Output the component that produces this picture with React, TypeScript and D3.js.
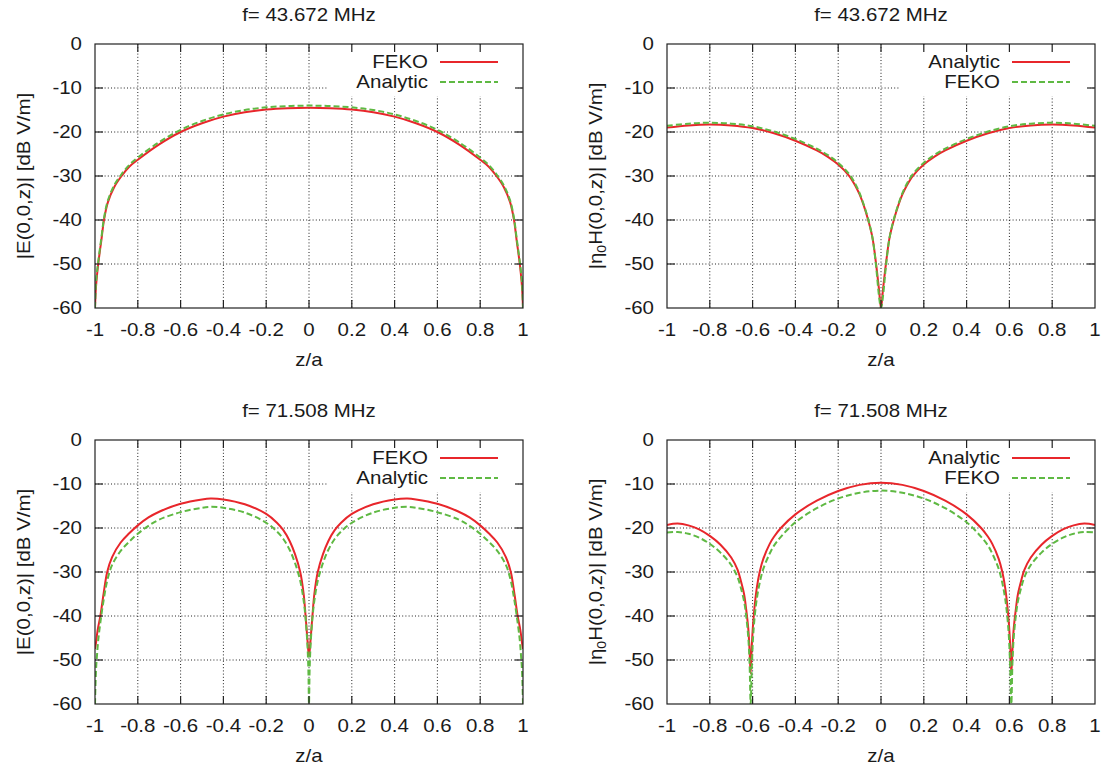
import React from "react";
import * as d3 from "d3";

// ---------- shared axes ----------
const xTicks = [-1, -0.8, -0.6, -0.4, -0.2, 0, 0.2, 0.4, 0.6, 0.8, 1];
const xTickLabels = ["-1", "-0.8", "-0.6", "-0.4", "-0.2", "0", "0.2", "0.4", "0.6", "0.8", "1"];
const yTicks = [0, -10, -20, -30, -40, -50, -60];
const yTickLabels = ["0", "-10", "-20", "-30", "-40", "-50", "-60"];

// ---------- panel 1: E, f = 43.672 MHz ----------
const zTL = [-1, -0.995, -0.985, -0.97, -0.958, -0.94, -0.91, -0.876, -0.84, -0.8, -0.7, -0.6, -0.5, -0.4, -0.3, -0.2, -0.1, 0, 0.1, 0.2, 0.3, 0.4, 0.5, 0.6, 0.7, 0.8, 0.84, 0.876, 0.91, 0.94, 0.958, 0.97, 0.985, 0.995, 1];
const fekoTL = [-60, -55, -50, -44.5, -40, -36, -32.5, -30, -27.9, -26.3, -22.8, -20.0, -18.0, -16.5, -15.5, -14.9, -14.6, -14.5, -14.6, -14.9, -15.5, -16.5, -18.0, -20.0, -22.8, -26.3, -27.9, -30, -32.5, -36, -40, -44.5, -50, -55, -60];
const analyticTL = [-60, -54, -49.5, -44, -39.6, -35.6, -32.1, -29.6, -27.5, -25.8, -22.3, -19.5, -17.5, -16.0, -15.0, -14.4, -14.1, -14.0, -14.1, -14.4, -15.0, -16.0, -17.5, -19.5, -22.3, -25.8, -27.5, -29.6, -32.1, -35.6, -39.6, -44, -49.5, -54, -60];

// ---------- panel 2: H, f = 43.672 MHz ----------
const zTR = [-1, -0.9, -0.8, -0.7, -0.6, -0.5, -0.4, -0.3, -0.25, -0.2, -0.15, -0.12, -0.1, -0.08, -0.06, -0.04, -0.023, -0.01, 0, 0.01, 0.023, 0.04, 0.06, 0.08, 0.1, 0.12, 0.15, 0.2, 0.25, 0.3, 0.4, 0.5, 0.6, 0.7, 0.8, 0.9, 1];
const analyticTR = [-19.0, -18.5, -18.3, -18.5, -19.1, -20.3, -22.0, -24.2, -25.6, -27.4, -29.9, -32.2, -34.2, -36.8, -40.0, -44.0, -50.0, -55.5, -60, -55.5, -50.0, -44.0, -40.0, -36.8, -34.2, -32.2, -29.9, -27.4, -25.6, -24.2, -22.0, -20.3, -19.1, -18.5, -18.3, -18.5, -19.0];
const fekoTR = [-18.6, -18.1, -17.9, -18.1, -18.7, -19.9, -21.6, -23.8, -25.2, -27.0, -29.5, -31.8, -33.9, -36.6, -39.8, -44.0, -50.5, -57.0, -60, -57.0, -50.5, -44.0, -39.8, -36.6, -33.9, -31.8, -29.5, -27.0, -25.2, -23.8, -21.6, -19.9, -18.7, -18.1, -17.9, -18.1, -18.6];

// ---------- panel 3: E, f = 71.508 MHz ----------
const zBL = [-1, -0.995, -0.99, -0.985, -0.975, -0.96, -0.943, -0.92, -0.88, -0.84, -0.8, -0.75, -0.7, -0.6, -0.5, -0.46, -0.4, -0.3, -0.2, -0.15, -0.12, -0.09, -0.065, -0.041, -0.025, -0.016, -0.008, -0.003, 0, 0.003, 0.008, 0.016, 0.025, 0.041, 0.065, 0.09, 0.12, 0.15, 0.2, 0.3, 0.4, 0.46, 0.5, 0.6, 0.7, 0.75, 0.8, 0.84, 0.88, 0.92, 0.943, 0.96, 0.975, 0.985, 0.99, 0.995, 1];
const fekoBL = [-47.5, -46, -44, -42.5, -40, -35, -30, -26.6, -23.3, -21.2, -19.4, -17.6, -16.3, -14.5, -13.5, -13.3, -13.5, -14.6, -16.8, -18.8, -20.5, -23, -26, -30, -35, -40, -45, -48, -49, -48, -45, -40, -35, -30, -26, -23, -20.5, -18.8, -16.8, -14.6, -13.5, -13.3, -13.5, -14.5, -16.3, -17.6, -19.4, -21.2, -23.3, -26.6, -30, -35, -40, -42.5, -44, -46, -47.5];
const analyticBL = [-60, -52, -48.5, -45.5, -41.5, -36.5, -32, -28.4, -25.2, -23.1, -21.3, -19.5, -18.1, -16.4, -15.4, -15.2, -15.4, -16.5, -18.8, -20.8, -22.5, -25, -28, -32, -36.5, -40.5, -46, -52, -60, -52, -46, -40.5, -36.5, -32, -28, -25, -22.5, -20.8, -18.8, -16.5, -15.4, -15.2, -15.4, -16.4, -18.1, -19.5, -21.3, -23.1, -25.2, -28.4, -32, -36.5, -41.5, -45.5, -48.5, -52, -60];

// ---------- panel 4: H, f = 71.508 MHz ----------
const zBR = [-1, -0.95, -0.9, -0.85, -0.8, -0.75, -0.7, -0.67, -0.655, -0.64, -0.63, -0.62, -0.614, -0.609, -0.604, -0.598, -0.59, -0.58, -0.567, -0.55, -0.52, -0.5, -0.468, -0.4, -0.3, -0.2, -0.1, 0, 0.1, 0.2, 0.3, 0.4, 0.468, 0.5, 0.52, 0.55, 0.567, 0.58, 0.59, 0.598, 0.604, 0.609, 0.614, 0.62, 0.63, 0.64, 0.655, 0.67, 0.7, 0.75, 0.8, 0.85, 0.9, 0.95, 1];
const analyticBR = [-19.3, -19.0, -19.4, -20.3, -21.8, -23.8, -26.7, -29.5, -32, -35, -38.5, -43, -48, -53, -47, -42, -37.5, -33.5, -30, -27, -23.6, -22.0, -20.0, -16.9, -13.8, -11.6, -10.2, -9.7, -10.2, -11.6, -13.8, -16.9, -20.0, -22.0, -23.6, -27, -30, -33.5, -37.5, -42, -47, -53, -48, -43, -38.5, -35, -32, -29.5, -26.7, -23.8, -21.8, -20.3, -19.4, -19.0, -19.3];
const fekoBR = [-21.0, -20.9, -21.3, -22.2, -23.6, -25.6, -28.4, -31.2, -33.6, -36.6, -40, -45, -51, -60, -52, -45, -40, -36, -32.5, -29.3, -25.8, -24.0, -22.0, -18.7, -15.5, -13.3, -12, -11.5, -12, -13.3, -15.5, -18.7, -22.0, -24.0, -25.8, -29.3, -32.5, -36, -40, -45, -52, -60, -51, -45, -40, -36.6, -33.6, -31.2, -28.4, -25.6, -23.6, -22.2, -21.3, -20.9, -21.0];

// ---------- styling ----------
const FONT = "'Liberation Sans', Arial, Helvetica, sans-serif";
const FS = 17.5;
const SX = 1.17;
const RED = "#e8262b";
const GREEN = "#5fb943";
const TXT = "#1a1a1a";
const PW = 428;
const PH = 264;

type Series = { name: string; z: number[]; v: number[]; color: string; dash?: string };

function T({ x, y, anchor = "middle", children, size = FS }: any) {
  return (
    <text
      transform={`translate(${x},${y}) scale(${SX},1)`}
      textAnchor={anchor}
      fontFamily={FONT}
      fontSize={size}
      fill={TXT}
    >
      {children}
    </text>
  );
}

function Panel({ left, top, title, ylabel, series, id }: { left: number; top: number; title: string; ylabel: React.ReactNode; series: Series[]; id: string }) {
  const xs = d3.scaleLinear().domain([-1, 1]).range([left, left + PW]);
  const ys = d3.scaleLinear().domain([-60, 0]).range([top + PH, top]);
  const line = d3
    .line<[number, number]>()
    .x((d) => xs(d[0]))
    .y((d) => ys(d[1]))
    .curve(d3.curveCatmullRom.alpha(0.5));
  const right = left + PW;
  const bottom = top + PH;
  const tick = 8;
  const legendRight = right - 95;
  const sampleX0 = right - 83;
  const sampleX1 = right - 25;
  const rowY = [top + 18, top + 38];
  return (
    <g>
      <defs>
        <clipPath id={id}>
          <rect x={left} y={top} width={PW} height={PH} />
        </clipPath>
      </defs>
      {/* grid */}
      <g stroke="#222" strokeWidth={1} strokeDasharray="1,2.2">
        {xTicks.slice(1, -1).map((t) => (
          <line key={"gx" + t} x1={xs(t)} x2={xs(t)} y1={top} y2={bottom} />
        ))}
        {yTicks.slice(1, -1).map((t) => (
          <line key={"gy" + t} x1={left} x2={right} y1={ys(t)} y2={ys(t)} />
        ))}
      </g>
      {/* legend background */}
      <rect x={right - 196} y={top + 2} width={191} height={50} fill="#fff" />
      {/* curves */}
      <g clipPath={`url(#${id})`}>
        {series.map((s) => (
          <path
            key={s.name}
            d={line(s.z.map((z, i) => [z, s.v[i]] as [number, number])) || ""}
            fill="none"
            stroke={s.color}
            strokeWidth={2}
            strokeDasharray={s.dash}
          />
        ))}
      </g>
      {/* frame & ticks */}
      <g stroke="#222" strokeWidth={1.2}>
        {xTicks.slice(1, -1).map((t) => (
          <g key={"tx" + t}>
            <line x1={xs(t)} x2={xs(t)} y1={bottom} y2={bottom - tick} />
            <line x1={xs(t)} x2={xs(t)} y1={top} y2={top + tick} />
          </g>
        ))}
        {yTicks.slice(1, -1).map((t) => (
          <g key={"ty" + t}>
            <line x1={left} x2={left + tick} y1={ys(t)} y2={ys(t)} />
            <line x1={right} x2={right - tick} y1={ys(t)} y2={ys(t)} />
          </g>
        ))}
        <rect x={left} y={top} width={PW} height={PH} fill="none" />
      </g>
      {/* tick labels */}
      {xTicks.map((t, i) => (
        <T key={"lx" + t} x={xs(t)} y={bottom + 28}>
          {xTickLabels[i]}
        </T>
      ))}
      {yTicks.map((t, i) => (
        <T key={"ly" + t} x={left - 13} y={ys(t) + 6} anchor="end">
          {yTickLabels[i]}
        </T>
      ))}
      {/* axis labels and title */}
      <T x={(left + right) / 2} y={bottom + 58}>
        z/a
      </T>
      <T x={(left + right) / 2} y={top - 23}>
        {title}
      </T>
      <text
        transform={`translate(${left - 65},${(top + bottom) / 2}) rotate(-90) scale(${SX},1)`}
        textAnchor="middle"
        fontFamily={FONT}
        fontSize={FS}
        fill={TXT}
      >
        {ylabel}
      </text>
      {/* legend */}
      {series.map((s, i) => (
        <g key={"lg" + s.name}>
          <T x={legendRight} y={rowY[i] + 6} anchor="end">
            {s.name}
          </T>
          <line x1={sampleX0} x2={sampleX1} y1={rowY[i]} y2={rowY[i]} stroke={s.color} strokeWidth={2} strokeDasharray={s.dash} />
        </g>
      ))}
    </g>
  );
}

const yLabelE = "|E(0,0,z)| [dB V/m]";
const yLabelH = (
  <>
    {"|η"}
    <tspan fontSize={12} dy={4}>0</tspan>
    <tspan dy={-4}>{"H(0,0,z)| [dB V/m]"}</tspan>
  </>
);

export default function App() {
  return (
    <svg width={1102} height={771} style={{ position: "absolute", left: 0, top: 0, background: "#fff" }}>
      <rect width={1102} height={771} fill="#fff" />
      <Panel
        id="c1"
        left={95}
        top={44}
        title="f= 43.672 MHz"
        ylabel={yLabelE}
        series={[
          { name: "FEKO", z: zTL, v: fekoTL, color: RED },
          { name: "Analytic", z: zTL, v: analyticTL, color: GREEN, dash: "6,3" },
        ]}
      />
      <Panel
        id="c2"
        left={667}
        top={44}
        title="f= 43.672 MHz"
        ylabel={yLabelH}
        series={[
          { name: "Analytic", z: zTR, v: analyticTR, color: RED },
          { name: "FEKO", z: zTR, v: fekoTR, color: GREEN, dash: "6,3" },
        ]}
      />
      <Panel
        id="c3"
        left={95}
        top={440}
        title="f= 71.508 MHz"
        ylabel={yLabelE}
        series={[
          { name: "FEKO", z: zBL, v: fekoBL, color: RED },
          { name: "Analytic", z: zBL, v: analyticBL, color: GREEN, dash: "6,3" },
        ]}
      />
      <Panel
        id="c4"
        left={667}
        top={440}
        title="f= 71.508 MHz"
        ylabel={yLabelH}
        series={[
          { name: "Analytic", z: zBR, v: analyticBR, color: RED },
          { name: "FEKO", z: zBR, v: fekoBR, color: GREEN, dash: "6,3" },
        ]}
      />
    </svg>
  );
}
